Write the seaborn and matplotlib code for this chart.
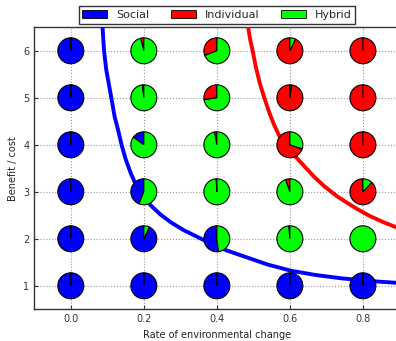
import numpy as np
import matplotlib
matplotlib.use("Agg")
import matplotlib.pyplot as plt
from matplotlib.patches import Patch
import seaborn as sns
import pandas as pd

# grid of parameter values
rates = [0.0, 0.2, 0.4, 0.6, 0.8]
ratios = [1, 2, 3, 4, 5, 6]

# share of each strategy, one row per benefit/cost ratio (1..6), one column per rate
social = [
    [1.00, 1.00, 1.00, 1.00, 1.00],
    [1.00, 0.93, 0.52, 0.015, 0.00],
    [1.00, 0.44, 0.01, 0.00, 0.00],
    [1.00, 0.15, 0.00, 0.00, 0.00],
    [0.99, 0.02, 0.00, 0.00, 0.00],
    [0.99, 0.00, 0.00, 0.00, 0.00],
]
individual = [
    [0.00, 0.00, 0.00, 0.00, 0.00],
    [0.00, 0.00, 0.00, 0.00, 0.00],
    [0.00, 0.00, 0.00, 0.055, 0.88],
    [0.00, 0.00, 0.03, 0.70, 1.00],
    [0.00, 0.00, 0.275, 0.98, 1.00],
    [0.00, 0.04, 0.31, 0.93, 1.00],
]
hybrid = [
    [0.00, 0.00, 0.00, 0.00, 0.00],
    [0.00, 0.07, 0.48, 0.985, 1.00],
    [0.00, 0.56, 0.99, 0.945, 0.12],
    [0.00, 0.85, 0.97, 0.30, 0.00],
    [0.01, 0.98, 0.725, 0.02, 0.00],
    [0.01, 0.96, 0.69, 0.07, 0.00],
]

# boundary curves
social_curve_x = [0.087, 0.089, 0.091, 0.097, 0.104, 0.111, 0.120, 0.130, 0.139, 0.150, 0.164,
                  0.180, 0.200, 0.219, 0.245, 0.274, 0.310, 0.365, 0.420, 0.480, 0.540, 0.603,
                  0.670, 0.740, 0.820, 0.900]
social_curve_y = [6.5, 6.25, 6.0, 5.6, 5.3, 5.0, 4.6, 4.3, 4.0, 3.7, 3.4,
                  3.12, 2.88, 2.71, 2.52, 2.35, 2.18, 1.97, 1.77, 1.61, 1.45, 1.32,
                  1.23, 1.16, 1.10, 1.06]
indiv_curve_x = [0.486, 0.491, 0.498, 0.507, 0.518, 0.530, 0.543, 0.557, 0.571, 0.588, 0.605,
                 0.621, 0.639, 0.665, 0.694, 0.730, 0.760, 0.785, 0.820, 0.860, 0.900]
indiv_curve_y = [6.5, 6.25, 6.0, 5.65, 5.3, 5.0, 4.7, 4.42, 4.19, 3.99, 3.84,
                 3.70, 3.55, 3.33, 3.12, 2.90, 2.75, 2.63, 2.48, 2.34, 2.22]

colors = ['#0000ff', '#ff0000', '#00ff00']
labels = ['Social', 'Individual', 'Hybrid']

sns.set_style("white", {"axes.edgecolor": "black", "xtick.direction": "in", "ytick.direction": "in"})
plt.rcParams['font.family'] = ['DejaVu Sans']

fig = plt.figure(figsize=(3.96, 3.41), dpi=100)
ax = fig.add_axes([0.0866, 0.093, 0.922, 0.827])

ax.set_xlim(-0.1, 0.9)
ax.set_ylim(0.5, 6.5)
ax.set_xticks(rates)
ax.set_xticklabels(['%.1f' % r for r in rates])
ax.set_yticks(ratios)
ax.grid(True, linestyle=':', color='#999999', linewidth=0.8)
ax.tick_params(labelsize=7, colors='#333333', length=3, width=0.8, left=True, bottom=True)
for s in ax.spines.values():
    s.set_linewidth(1.0)
    s.set_color('#333333')

# curves
curves = pd.concat([
    pd.DataFrame({'x': social_curve_x, 'y': social_curve_y, 'which': 'Social'}),
    pd.DataFrame({'x': indiv_curve_x, 'y': indiv_curve_y, 'which': 'Individual'}),
])
sns.lineplot(data=curves, x='x', y='y', hue='which', palette={'Social': colors[0], 'Individual': colors[1]},
             linewidth=2.8, legend=False, ax=ax, zorder=3, sort=True)
ax.set_xlabel('Rate of environmental change', fontsize=7, color='#222222')
ax.set_ylabel('Benefit / cost', fontsize=7, color='#222222')

# pies
w, h = 0.09, 0.69
for i, r in enumerate(ratios):
    for j, x in enumerate(rates):
        fr = [social[i][j], individual[i][j], hybrid[i][j]]
        iax = ax.inset_axes([x - w / 2, r - h / 2, w, h], transform=ax.transData, zorder=4)
        iax.pie(fr, colors=colors, startangle=90, counterclock=True, normalize=True,
                wedgeprops=dict(edgecolor='black', linewidth=0.8))
        iax.set_aspect('equal')

handles = [Patch(facecolor=c, edgecolor='black', linewidth=0.6) for c in colors]
fig.legend(handles, labels, loc='center', bbox_to_anchor=(0.548, 0.956), ncol=3, fontsize=8,
           frameon=True, fancybox=False, edgecolor='black', handlelength=2.2, handleheight=0.65,
           handletextpad=0.8, columnspacing=2.0, borderpad=0.35)

fig.savefig('out.png', dpi=100)
